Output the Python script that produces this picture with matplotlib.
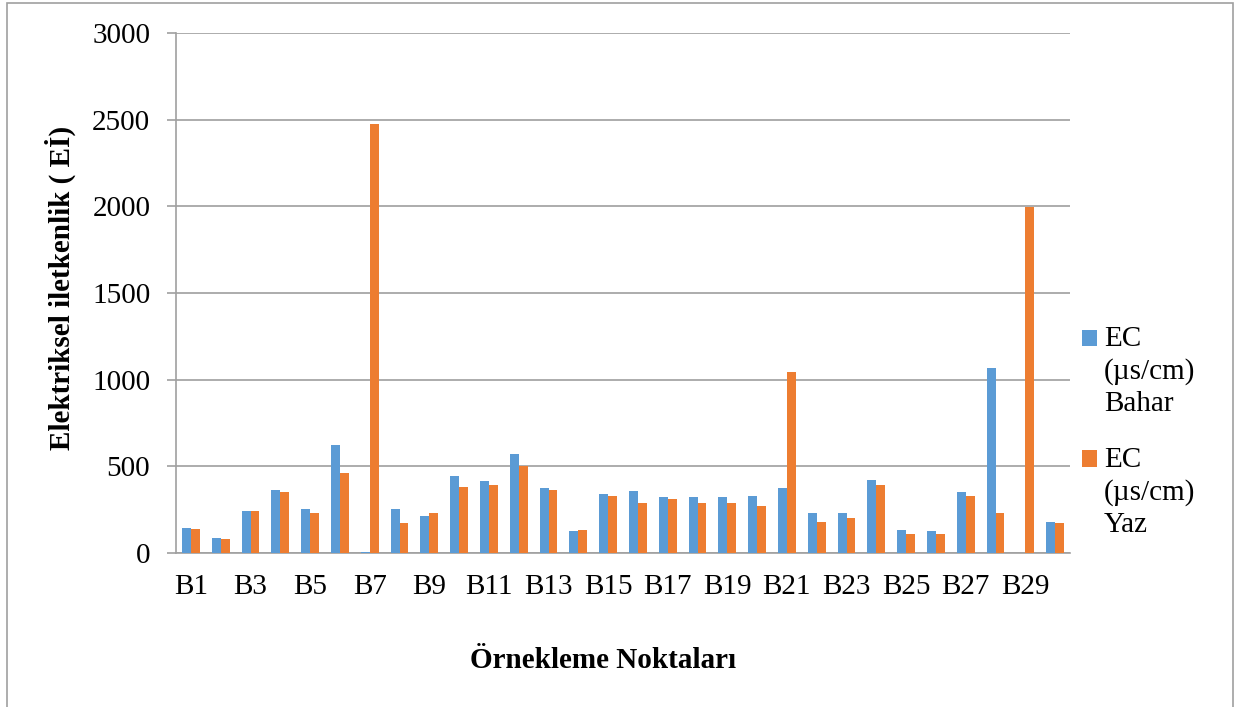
import matplotlib
matplotlib.use("Agg")
import matplotlib.pyplot as plt
import numpy as np
from matplotlib.container import BarContainer
from matplotlib.patches import Rectangle
from matplotlib.legend_handler import HandlerPatch, update_from_first_child

# %% data
points = [f"B{i}" for i in range(1, 31)]
bahar = [145, 87, 242, 364, 254, 623, 5, 254, 213, 444,
         415, 571, 375, 127, 340, 358, 323, 323, 323, 329,
         375, 231, 231, 421, 133, 127, 352, 1067, 0, 179]
yaz = [138, 81, 242, 352, 231, 462, 2475, 173, 231, 381,
       392, 502, 363, 133, 329, 288, 312, 288, 288, 271,
       1045, 179, 202, 392, 110, 110, 329, 231, 1996, 173]
series_names = ["EC\n(µs/cm)\nBahar", "EC\n(µs/cm)\nYaz"]
colors = ["#5B9BD5", "#ED7D31"]
y_ticks = [0, 500, 1000, 1500, 2000, 2500, 3000]

plt.rcParams["font.family"] = ["Liberation Serif", "DejaVu Serif"]

LEGEND_FS = 21
LINE_SP = 1.3


# %%
def top_square(legend, orig_handle, xdescent, ydescent, width, height, fontsize):
    """Legend square aligned with the first text line (Excel style)."""
    shift = fontsize * 1.15
    return Rectangle((-xdescent, -ydescent + shift), width, height)


# %% figure
fig = plt.figure(figsize=(12.36, 7.07), dpi=100)
ax = fig.add_axes([176 / 1236, 1 - 553 / 707, (1070 - 176) / 1236, (553 - 33) / 707])

x = np.arange(len(points))
width = 0.30
ax.bar(x - width / 2, bahar, width, color=colors[0], label=series_names[0], zorder=3)
ax.bar(x + width / 2, yaz, width, color=colors[1], label=series_names[1], zorder=3)

ax.set_xlim(-0.5, len(points) - 0.5)
ax.set_ylim(0, 3000)
ax.set_yticks(y_ticks)
ax.set_xticks(x[::2])
ax.set_xticklabels(points[::2])

ax.grid(axis="y", color="#A6A6A6", linewidth=1.3, zorder=0)
for side in ["top", "right"]:
    ax.spines[side].set_visible(False)
ax.spines["left"].set_color("#A0A0A0")
ax.spines["bottom"].set_color("#A0A0A0")
ax.spines["left"].set_linewidth(1.2)
ax.spines["bottom"].set_linewidth(1.2)

ax.tick_params(axis="y", labelsize=21, length=6.5, width=1.2, color="#A0A0A0", pad=12)
ax.tick_params(axis="x", labelsize=21, length=0, pad=15)

fig.text(60 / 1236, 1 - 288 / 707, "Elektriksel iletkenlik ( Eİ)", rotation=90,
         ha="center", va="center", fontsize=21, fontweight="bold")
fig.text(603 / 1236, 1 - 661 / 707, "Örnekleme Noktaları",
         ha="center", va="center", fontsize=21, fontweight="bold")

handler = HandlerPatch(patch_func=top_square, update_func=update_from_first_child)
leg = fig.legend(loc="center left", bbox_to_anchor=(1082 / 1236, 1 - 432 / 707),
                 frameon=False, fontsize=LEGEND_FS, handlelength=0.5, handleheight=0.5,
                 handletextpad=0.25, labelspacing=1.0, borderaxespad=0,
                 borderpad=0, handler_map={BarContainer: handler})
for t in leg.get_texts():
    t.set_linespacing(LINE_SP)

# outer chart border
fig.patches.append(Rectangle((7 / 1236, -0.02), (1233 - 7) / 1236, 1.02 - 3 / 707,
                             transform=fig.transFigure, fill=False,
                             edgecolor="#A0A0A0", linewidth=1.2))

fig.savefig("out.png", dpi=100)
